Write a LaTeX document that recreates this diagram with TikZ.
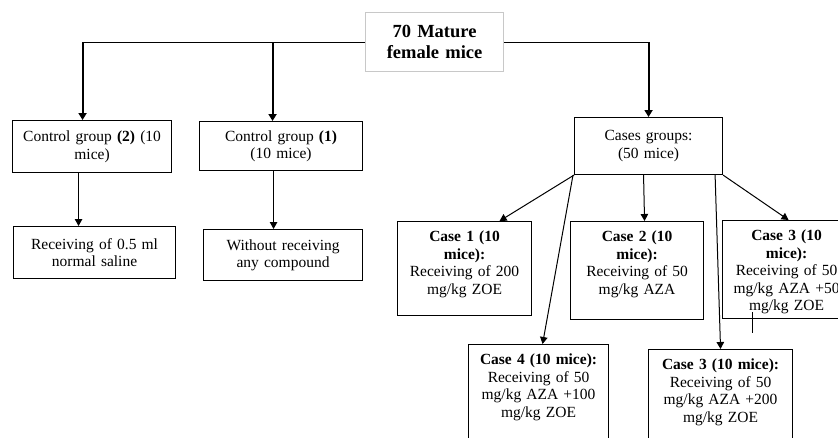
\documentclass[tikz,border=0pt]{standalone}
\usepackage{fontspec}
\setmainfont{Liberation Serif}
\usetikzlibrary{arrows.meta}

\tikzset{every picture/.style={line width=0.75pt}}
\tikzset{
  box/.style={draw, line width=1.1pt, anchor=north west, align=center,
    inner xsep=3pt, font=\fontsize{15.5}{17.5}\selectfont},
  topbox/.style={box, draw={rgb,255:red,200;green,200;blue,200},
    font=\fontsize{18.5}{21}\selectfont\bfseries},
  casebox/.style={box, inner ysep=9pt, text height=11pt},
  link/.style={line width=1pt, -{Triangle[width=7.5pt,length=7pt]}},
  trunk/.style={line width=2pt, -{Triangle[width=8pt,length=7pt]}},
  wire/.style={line width=1.1pt}
}

\begin{document}
\begin{tikzpicture}[x=1pt,y=1pt,yscale=-1,xscale=1]
        \useasboundingbox (0,0) rectangle (838,437);
        \clip (0,0) rectangle (838,437);
        % Top box
        \node[topbox, text width=132pt, minimum height=59pt] (mice) at (365,12) {70 Mature\\female mice};
        % Control groups
        \node[box, text width=153pt, minimum height=52pt] (ctrlB) at (12,120) {Control group \textbf{(2)} (10\\mice)};
        \node[box, text width=157pt, minimum height=49pt] (ctrlA) at (199,121) {Control group \textbf{(1)}\\(10 mice)};
        \node[box, text width=156pt, minimum height=52pt] (saline) at (13,226) {Receiving of 0.5 ml\\normal saline};
        \node[box, text width=153pt, minimum height=51pt] (none) at (203,229) {Without receiving\\any compound};
        % Cases groups
        \node[box, text width=142pt, minimum height=57pt] (cases) at (574,117) {Cases groups:\\(50 mice)};
        \node[casebox, text width=128pt, text depth=65pt] (caseA) at (397,221) {\textbf{Case 1 (10}\\\textbf{mice):}\\Receiving of 200\\mg/kg ZOE};
        \node[casebox, text width=127pt, text depth=69pt] (caseB) at (570,221) {\textbf{Case 2 (10}\\\textbf{mice):}\\Receiving of 50\\mg/kg AZA};
        \node[casebox, text width=122pt, text depth=69pt] (caseC) at (722,220) {\textbf{Case 3 (10}\\\textbf{mice):}\\Receiving of 50\\mg/kg AZA +50\\mg/kg ZOE};
        \node[casebox, text width=134pt, text depth=100pt] (caseD) at (468,344) {\textbf{Case 4 (10 mice):}\\Receiving of 50\\mg/kg AZA +100\\mg/kg ZOE};
        \node[casebox, text width=138pt, text depth=100pt] (caseE) at (648,349) {\textbf{Case 3 (10 mice):}\\Receiving of 50\\mg/kg AZA +200\\mg/kg ZOE};
        % Named points
        \coordinate (inB) at ([xshift=-9.5pt]ctrlB.north);
        \coordinate (inA) at ([xshift=-8.5pt]ctrlA.north);
        \coordinate (outB) at ([xshift=-13.5pt]ctrlB.south);
        \coordinate (outA) at ([xshift=-7.5pt]ctrlA.south);
        \coordinate (tick) at (752,312);
        % Lines from top box
        \draw[wire] (mice.west) -- (mice.west -| inB);
        \draw[trunk] (mice.west -| inB) -- (inB);
        \draw[trunk] (mice.west -| inA) -- (inA);
        \draw[wire] (mice.east) -- (mice.east -| cases.north);
        \draw[trunk] (mice.east -| cases.north) -- (cases.north);
        % Control arrows
        \draw[link] (outB) -- (outB |- saline.north);
        \draw[link] (outA) -- (outA |- none.north);
        % Case arrows
        \draw[link] (cases.south west) -- ([xshift=35pt]caseA.north);
        \draw[link] ([xshift=-1pt]cases.south west) -- ([xshift=4pt]caseD.north);
        \draw[link] ([xshift=-5pt]cases.south) -- ([xshift=7.5pt]caseB.north);
        \draw[link] ([xshift=-8pt]cases.south east) -- (caseE.north);
        \draw[link] (cases.south east) -- ([xshift=2pt]caseC.north);
        \draw[line width=1pt] (tick) -- ++(0,21);
\end{tikzpicture}
\end{document}
